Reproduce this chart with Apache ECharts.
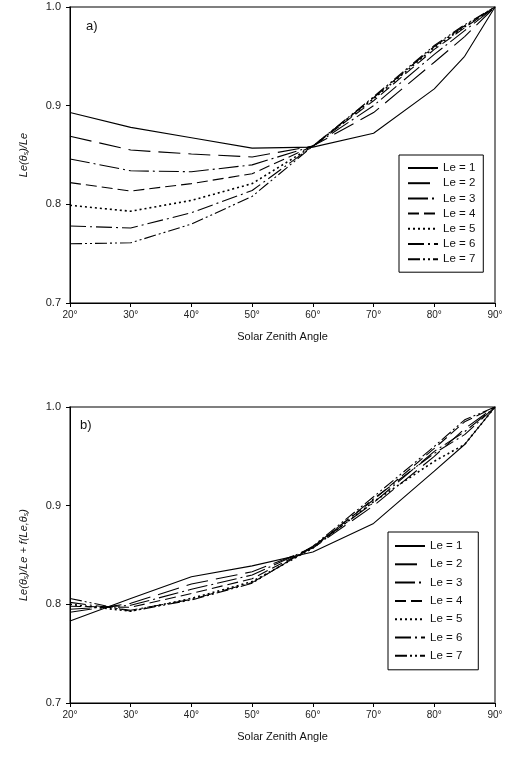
<!DOCTYPE html>
<html><head><meta charset="utf-8">
<script src="https://cdn.jsdelivr.net/npm/echarts@6/dist/echarts.min.js"></script>
<style>html,body{margin:0;padding:0;background:#fff}#c{width:506px;height:759px}</style>
</head><body><div id="c"></div>
<script>
const angles = [20, 30, 40, 50, 60, 70, 80, 85, 90];
const seriesNames = ['Le = 1','Le = 2','Le = 3','Le = 4','Le = 5','Le = 6','Le = 7'];
const yTicks = [0.7, 0.8, 0.9, 1.0];
const xTicks = [20, 30, 40, 50, 60, 70, 80, 90];

// panel a) Le(θs)/Le
const a_le1 = [0.893, 0.878, 0.8675, 0.857, 0.858, 0.872, 0.917, 0.950, 1.0];
const a_le2 = [0.869, 0.855, 0.851, 0.848, 0.859, 0.893, 0.944, 0.970, 1.0];
const a_le3 = [0.846, 0.834, 0.833, 0.840, 0.859, 0.900, 0.952, 0.976, 1.0];
const a_le4 = [0.822, 0.8135, 0.821, 0.831, 0.859, 0.905, 0.957, 0.979, 1.0];
const a_le5 = [0.799, 0.793, 0.804, 0.821, 0.859, 0.907, 0.959, 0.980, 1.0];
const a_le6 = [0.778, 0.776, 0.7915, 0.814, 0.859, 0.908, 0.960, 0.981, 1.0];
const a_le7 = [0.760, 0.761, 0.780, 0.808, 0.859, 0.909, 0.961, 0.982, 1.0];

// panel b) Le(θs)/Le + f(Le,θs)
const b_le1 = [0.783, 0.806, 0.828, 0.839, 0.853, 0.882, 0.935, 0.962, 1.0];
const b_le2 = [0.792, 0.801, 0.8206, 0.833, 0.857, 0.900, 0.950, 0.978, 1.0];
const b_le3 = [0.795, 0.799, 0.8152, 0.8297, 0.858, 0.903, 0.955, 0.975, 1.0];
const b_le4 = [0.798, 0.797, 0.811, 0.826, 0.858, 0.906, 0.958, 0.985, 1.0];
const b_le5 = [0.800, 0.793, 0.806, 0.823, 0.857, 0.904, 0.945, 0.962, 1.0];
const b_le6 = [0.802, 0.794, 0.805, 0.822, 0.858, 0.907, 0.953, 0.972, 1.0];
const b_le7 = [0.806, 0.793, 0.8044, 0.8213, 0.859, 0.909, 0.960, 0.987, 1.0];

const aData = [a_le1, a_le2, a_le3, a_le4, a_le5, a_le6, a_le7];
const bData = [b_le1, b_le2, b_le3, b_le4, b_le5, b_le6, b_le7];

const dashes = ['solid', [22, 8], [20, 4, 2, 4], [11, 5], [2, 3], [16, 4, 2, 4], [12, 3, 2, 3, 2, 3]];

const FONT = 'Liberation Sans, Arial, sans-serif';

function mkSeries(data, idx) {
  return data.map((vals, i) => ({
    name: seriesNames[i],
    type: 'line',
    xAxisIndex: idx, yAxisIndex: idx,
    symbol: 'none',
    showSymbol: false,
    silent: true,
    animation: false,
    color: '#000',
    itemStyle: { color: '#000', opacity: 0 },
    data: angles.map((a, k) => [a, vals[k]]),
    lineStyle: { color: '#000', width: i === 4 ? 1.6 : 1.1, type: dashes[i] }
  }));
}

function xAx(idx) {
  return {
    type: 'value', gridIndex: idx, min: 20, max: 90, interval: 10,
    name: 'Solar Zenith Angle', nameLocation: 'middle', nameGap: 28,
    nameTextStyle: { color: '#111', fontSize: 11, fontFamily: FONT },
    axisLine: { show: true, onZero: false, lineStyle: { color: '#000', width: 1 } },
    axisTick: { show: true, length: 4, lineStyle: { color: '#000' } },
    axisLabel: { color: '#222', fontSize: 10, fontFamily: FONT, margin: 7, formatter: v => v + '°' },
    splitLine: { show: false }
  };
}
function yAx(idx, nameRich) {
  return {
    type: 'value', gridIndex: idx, min: 0.7, max: 1.0, interval: 0.1,
    name: nameRich, nameLocation: 'middle', nameGap: 40, nameRotate: 90,
    nameTextStyle: {
      color: '#111', fontSize: 11, fontFamily: FONT, fontStyle: 'italic',
      rich: {
        i: { fontSize: 11, fontStyle: 'italic', fontFamily: FONT, color: '#111' },
        s: { fontSize: 7, fontStyle: 'italic', fontFamily: FONT, color: '#111', padding: [6, 0, 0, 0] }
      }
    },
    axisLine: { show: true, lineStyle: { color: '#000', width: 1 } },
    axisTick: { show: true, length: 4, lineStyle: { color: '#000' } },
    axisLabel: { color: '#222', fontSize: 11, fontFamily: FONT, margin: 9, formatter: v => v.toFixed(1) },
    splitLine: { show: false }
  };
}

function legend(left, top, gap, pad) {
  return {
    orient: 'vertical', left: left, top: top,
    data: seriesNames,
    itemWidth: 30, itemHeight: 10, itemGap: gap,
    padding: pad,
    borderColor: '#000', borderWidth: 1, backgroundColor: '#fff',
    itemStyle: { opacity: 0 },
    textStyle: { fontSize: 11.5, fontFamily: FONT, color: '#111' },
    selectedMode: false
  };
}

const chart = echarts.init(document.getElementById('c'), null, { renderer: 'canvas' });
chart.setOption({
  animation: false,
  backgroundColor: '#fff',
  color: ['#000'],
  grid: [
    { left: 70, top: 7, width: 425, height: 296, show: true, borderColor: '#555', borderWidth: 1.5 },
    { left: 70, top: 407, width: 425, height: 296, show: true, borderColor: '#555', borderWidth: 1.5 }
  ],
  xAxis: [xAx(0), xAx(1)],
  yAxis: [
    yAx(0, '{i|Le(θ}{s|s}{i|)/Le}'),
    yAx(1, '{i|Le(θ}{s|s}{i|)/Le + f(Le,θ}{s|s}{i|)}')
  ],
  legend: [legend(399, 155, 3.2, [7, 8, 7, 8]), legend(388, 532, 6.3, [8, 16, 8, 6])],
  graphic: [
    { type: 'text', left: 86, top: 20, style: { text: 'a)', font: '13px ' + FONT, fill: '#111' } },
    { type: 'text', left: 80, top: 419, style: { text: 'b)', font: '13px ' + FONT, fill: '#111' } }
  ],
  series: mkSeries(aData, 0).concat(mkSeries(bData, 1))
});
</script></body></html>
